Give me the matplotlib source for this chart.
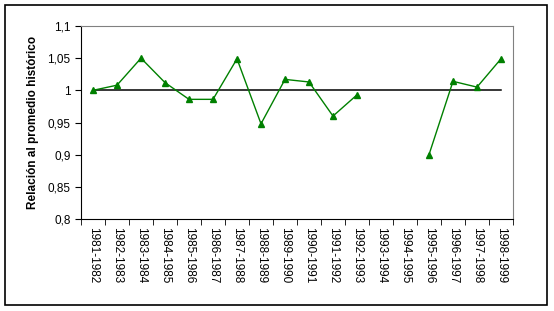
import matplotlib
matplotlib.use("Agg")
import matplotlib.pyplot as plt
import numpy as np

plt.rcParams['font.family'] = ['Liberation Sans', 'DejaVu Sans']

# campaign years and ratio to the historical average (gaps = no data)
campanas = ['1981-1982', '1982-1983', '1983-1984', '1984-1985', '1985-1986',
            '1986-1987', '1987-1988', '1988-1989', '1989-1990', '1990-1991',
            '1991-1992', '1992-1993', '1993-1994', '1994-1995', '1995-1996',
            '1996-1997', '1997-1998', '1998-1999']
relacion = [1.000, 1.008, 1.050, 1.012, 0.986, 0.986, 1.049, 0.948, 1.017,
            1.013, 0.960, 0.993, np.nan, np.nan, 0.900, 1.014, 1.005, 1.049]
referencia = [1.0] * len(campanas)
y_ticks = [0.8, 0.85, 0.9, 0.95, 1.0, 1.05, 1.1]
y_labels = ['0,8', '0,85', '0,9', '0,95', '1', '1,05', '1,1']

fig = plt.figure(figsize=(5.54, 3.11), dpi=100)
# outer frame like the Excel chart area
fig.patches.append(plt.Rectangle((5 / 554, 6 / 311), 542 / 554, 300 / 311,
                                 transform=fig.transFigure, fill=False,
                                 edgecolor='black', linewidth=1.2))
ax = fig.add_axes([81 / 554, 92 / 311, 432 / 554, 193 / 311])

x = np.arange(len(campanas))
ax.plot(x, referencia, color='black', linewidth=1.1, zorder=2)
ax.plot(x, relacion, color='#008000', linewidth=1, marker='^',
        markersize=5, markerfacecolor='#008000', markeredgecolor='#008000',
        zorder=3)

ax.set_xlim(-0.5, len(campanas) - 0.5)
ax.set_ylim(0.8, 1.1)
ax.set_yticks(y_ticks)
ax.set_yticklabels(y_labels, fontsize=8.5)
ax.set_xticks(x)
ax.set_xticklabels(campanas, rotation=270, fontsize=8.5)
ax.tick_params(axis='x', which='major', length=0, pad=6)
ax.set_xticks(np.arange(len(campanas) + 1) - 0.5, minor=True)
ax.tick_params(axis='x', which='minor', length=4, direction='out', color='black')
ax.tick_params(axis='y', length=4, direction='out', color='black')

for side in ['top', 'right']:
    ax.spines[side].set_color('#808080')
for side in ['left', 'bottom']:
    ax.spines[side].set_color('black')

ax.set_ylabel('Relación al promedio histórico', fontsize=8.5, fontweight='bold',
              labelpad=6)

fig.savefig('out.png', dpi=100)
